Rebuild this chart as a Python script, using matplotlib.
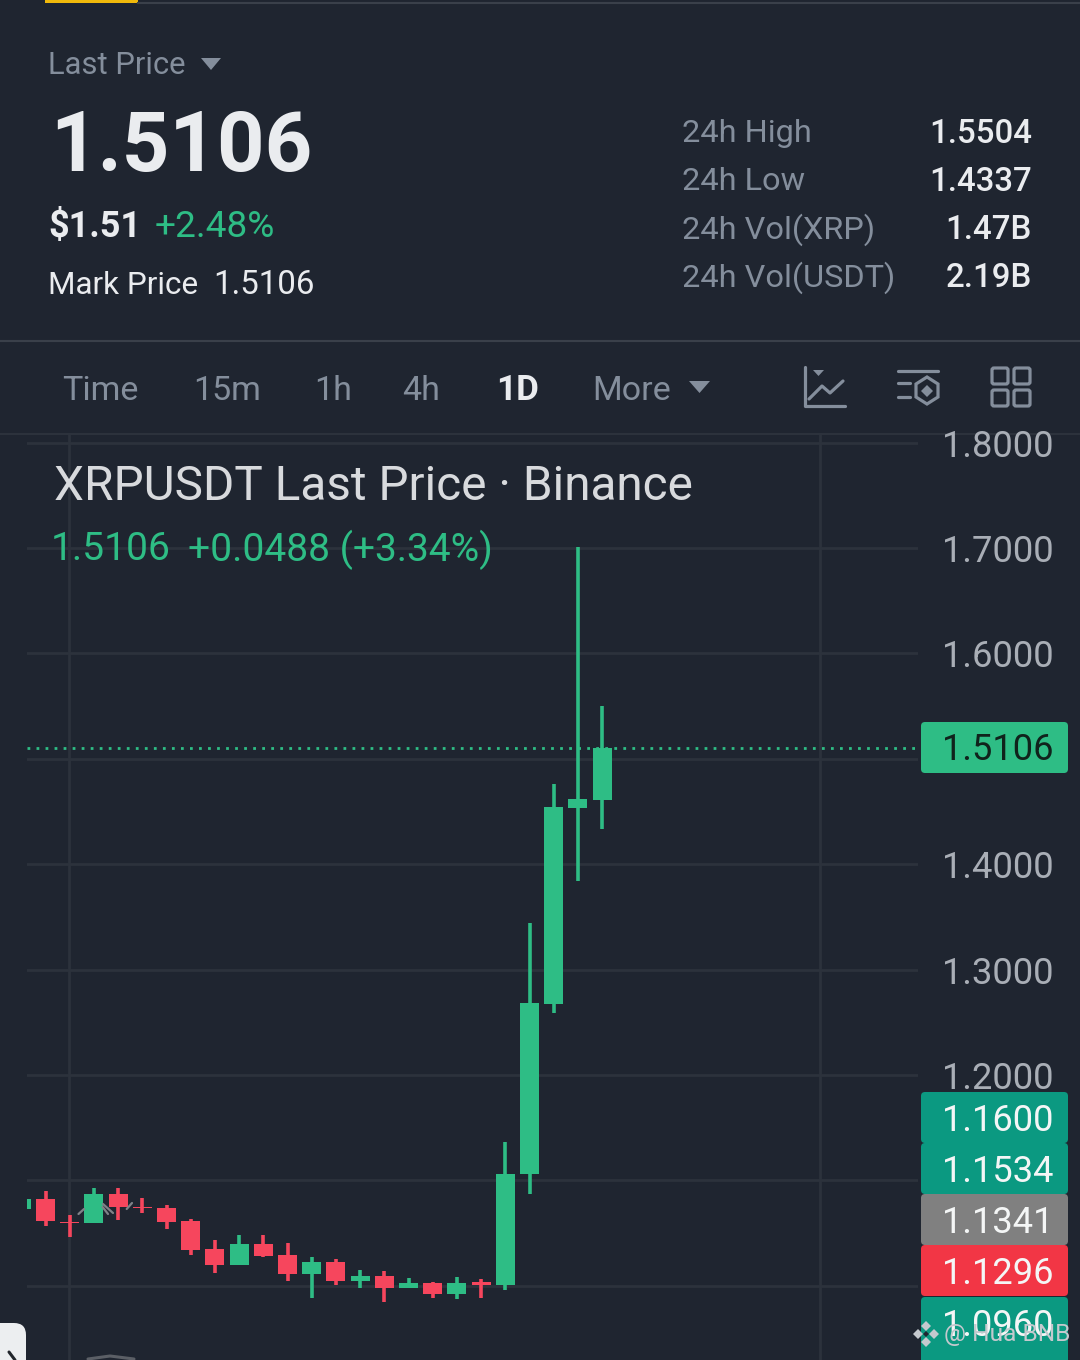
import matplotlib
matplotlib.use("Agg")
import matplotlib.pyplot as plt
from matplotlib.patches import FancyBboxPatch, Polygon, Rectangle

W, H = 1080, 1360
BG = "#1f2530"
GRID = "#2c323c"
UP = "#2ebd85"
DOWN = "#f6465d"
MUTED = "#848e9c"
LIGHT = "#eaecef"

# daily candles, oldest first
opens = [1.0729, 1.0824, 1.0605, 1.0596, 1.0871, 1.0748, 1.0738, 1.0615, 1.0349, 1.0197,
         1.0397, 1.0292, 1.0112, 1.0226, 1.0046, 1.0093, 0.9979, 1.0027, 0.9922, 1.0036,
         1.0008, 1.1061, 1.2674, 1.4533, 1.4609]
highs = [1.0824, 1.0899, 1.0672, 1.0928, 1.0928, 1.0833, 1.0767, 1.0634, 1.0435, 1.0482,
         1.0482, 1.0406, 1.0273, 1.0254, 1.0150, 1.0140, 1.0074, 1.0036, 1.0083, 1.0065,
         1.1364, 1.3442, 1.4761, 1.7009, 1.5504]
lows = [1.0729, 1.0567, 1.0463, 1.0596, 1.0624, 1.0691, 1.0539, 1.0292, 1.0121, 1.0197,
        1.0273, 1.0046, 0.9884, 1.0008, 0.9979, 0.9846, 0.9979, 0.9884, 0.9875, 0.9884,
        0.9960, 1.0871, 1.2588, 1.3841, 1.4337]
closes = [1.0824, 1.0615, 1.0596, 1.0871, 1.0748, 1.0738, 1.0605, 1.0340, 1.0197, 1.0397,
          1.0283, 1.0112, 1.0226, 1.0046, 1.0093, 0.9979, 1.0027, 0.9922, 1.0027, 1.0008,
          1.1061, 1.2683, 1.4543, 1.4619, 1.5106]

grid_prices = [1.0, 1.1, 1.2, 1.3, 1.4, 1.5, 1.6, 1.7, 1.8]
grid_labels = ["", "", "1.2000", "1.3000", "1.4000", "", "1.6000", "1.7000", "1.8000"]
last_price = 1.5106

stats_names = ["24h High", "24h Low", "24h Vol(XRP)", "24h Vol(USDT)"]
stats_values = ["1.5504", "1.4337", "1.47B", "2.19B"]
tabs = ["Time", "15m", "1h", "4h", "1D", "More"]
tab_x = [62, 193, 314, 402, 496, 592]

chip_labels = ["1.1600", "1.1534", "1.1341", "1.1296", "1.0960"]
chip_colors = ["#0b9981", "#0b9981", "#808080", "#f23645", "#0b9981"]
chip_tops = [1092, 1143, 1194, 1245, 1297]
chip_bottoms = [1143, 1194, 1245, 1296, 1372]


def fig_rect(left, top, right, bottom):
    return [left / W, 1 - bottom / H, (right - left) / W, (bottom - top) / H]


fig = plt.figure(figsize=(W / 100, H / 100), dpi=100, facecolor=BG)

# bottom layer, only for the rule under the tabs
base = fig.add_axes([0, 0, 1, 1], facecolor=BG, zorder=0)
base.set_xlim(0, W)
base.set_ylim(H, 0)
base.axis("off")
base.plot([0, W], [434, 434], color=GRID, linewidth=1.5)

# price chart
ax = fig.add_axes(fig_rect(27, 434, 918, 1360), facecolor="none", zorder=1)
step = 24.2
ax.set_xlim((27 - 21.3) / step, (918 - 21.3) / step)
ax.set_ylim(1.7 - (1360 - 548) / 1054, 1.7 - (434 - 548) / 1054)
for side in ax.spines.values():
    side.set_visible(False)
ax.set_xticks([1.97, 33])
ax.set_xticklabels([])
ax.set_yticks(grid_prices)
ax.set_yticklabels(grid_labels, family="Roboto", fontsize=26.2, color="#a9aeb6")
ax.yaxis.tick_right()
ax.tick_params(length=0, pad=17.5)
ax.tick_params(axis="x", pad=0)
ax.grid(True, color=GRID, linewidth=2.0)
ax.set_axisbelow(True)

colors = [UP if c >= o else DOWN for o, c in zip(opens, closes)]
xs = list(range(len(opens)))
ax.vlines(xs, lows, highs, colors=colors, linewidth=2.6, zorder=3)
ax.bar(xs, [abs(c - o) for o, c in zip(opens, closes)], bottom=[min(o, c) for o, c in zip(opens, closes)],
       width=0.79, color=colors, linewidth=0, zorder=4)
ax.axhline(last_price, color=UP, linewidth=2.0, linestyle=(0, (1, 2.25)), zorder=2)

# everything else is placed in pixels
ui = fig.add_axes([0, 0, 1, 1], facecolor="none", zorder=2)
ui.set_xlim(0, W)
ui.set_ylim(H, 0)
ui.axis("off")


def label(x, y, s, px, color=LIGHT, weight="normal", ha="left"):
    ui.text(x, y, s, fontsize=px * 0.72, color=color, family="Roboto", weight=weight, ha=ha, va="center")


def stroke(pts, color=MUTED, lw=2.3):
    ui.plot([p[0] for p in pts], [p[1] for p in pts], color=color, linewidth=lw, solid_capstyle="round")


# top bar
ui.add_patch(Rectangle((45, 0), 93, 2.5, color="#f0b90b", lw=0))
ui.plot([138, W], [3, 3], color="#3a404a", linewidth=1.5)
ui.plot([0, W], [341, 341], color="#3a404a", linewidth=1.5)

# header
label(48, 66, "Last Price", 31, MUTED)
ui.add_patch(Polygon([(201, 58), (221, 58), (211, 70)], color=MUTED, lw=0))
label(50, 148, "1.5106", 83, LIGHT, weight="bold")
label(48, 227, "$1.51", 36, LIGHT, weight="bold")
label(155, 227, "+2.48%", 37, UP)
label(48, 285, "Mark Price", 31.5, LIGHT)
label(213, 285, "1.5106", 33, LIGHT)
for name, val, y in zip(stats_names, stats_values, [134, 182, 230, 278]):
    label(682, y, name, 32.5, MUTED)
    label(1032, y, val, 33, LIGHT, weight="medium", ha="right")

# timeframe tabs
for tab, x in zip(tabs, tab_x):
    if tab == "1D":
        label(x, 391, tab, 35, LIGHT, weight="bold")
    else:
        label(x, 391, tab, 34, MUTED)
ui.add_patch(Polygon([(689, 381), (710, 381), (699.5, 393)], color=MUTED, lw=0))

# toolbar icons
stroke([(805, 367), (805, 406), (845, 406)])
ui.add_patch(Polygon([(813, 370), (824, 370), (818.5, 376)], color=MUTED, lw=0))
stroke([(809, 399), (822, 386), (830, 393), (843, 381)])
stroke([(898, 371), (938, 371)])
stroke([(898, 383), (910, 383)])
stroke([(898, 397), (910, 397)])
ui.add_patch(Polygon([(927, 377), (938, 384), (938, 397), (927, 404), (916, 397), (916, 384)],
                     fill=False, edgecolor=MUTED, linewidth=2.3))
ui.add_patch(Polygon([(927, 385), (933, 391), (927, 397), (921, 391)], color=MUTED, lw=0))
for gx in (992, 1014):
    for gy in (368, 390):
        ui.add_patch(FancyBboxPatch((gx, gy), 16, 16, boxstyle="round,pad=0,rounding_size=2",
                                    fill=False, edgecolor=MUTED, linewidth=2.3))

# chart legend
label(54, 487, "XRPUSDT Last Price · Binance", 47.8, "#d8dadd")
label(51, 550, "1.5106", 39, UP)
label(188.5, 550, "+0.0488 (+3.34%)", 39, UP)

# indicator line fragments peeking out around the candles
for seg in ([(78.5, 1214), (84, 1209)], [(103, 1204), (113, 1213)],
            [(102.6, 1207), (108, 1214)], [(126.7, 1209), (132, 1203)]):
    stroke(seg, color="#7f8288", lw=1.6)

# price chips
ui.add_patch(FancyBboxPatch((921, 722), 147, 51, boxstyle="round,pad=0,rounding_size=4", color=UP, lw=0))
label(942, 750, "1.5106", 36.3, "#10231c")
for text, col, top, bottom in zip(chip_labels, chip_colors, chip_tops, chip_bottoms):
    ui.add_patch(FancyBboxPatch((921, top), 147, bottom - top, boxstyle="round,pad=0,rounding_size=4",
                                color=col, lw=0))
    label(942, top + 29, text, 36.3, "#f4f6f6")

# watermark
wm = "#c4c9ce"
for dx, dy in ((0, -8), (8, 0), (0, 8), (-8, 0)):
    cx, cy = 926 + dx, 1334 + dy
    ui.add_patch(Polygon([(cx, cy - 5), (cx + 5, cy), (cx, cy + 5), (cx - 5, cy)], color=wm, lw=0))
ui.add_patch(Polygon([(926, 1331), (929, 1334), (926, 1337), (923, 1334)], color=BG, lw=0))
label(944, 1335, "@ Hua BNB", 24.5, wm)

# scroll handle bottom left
ui.add_patch(FancyBboxPatch((-12, 1323), 38, 60, boxstyle="round,pad=0,rounding_size=12", color="#eceef0", lw=0))
stroke([(9, 1352), (15, 1360)], color="#22262c", lw=2.2)
stroke([(88, 1359), (110, 1356), (134, 1359)], color="#5b5f66", lw=2.2)

fig.savefig("out.png", dpi=100, facecolor=BG)
